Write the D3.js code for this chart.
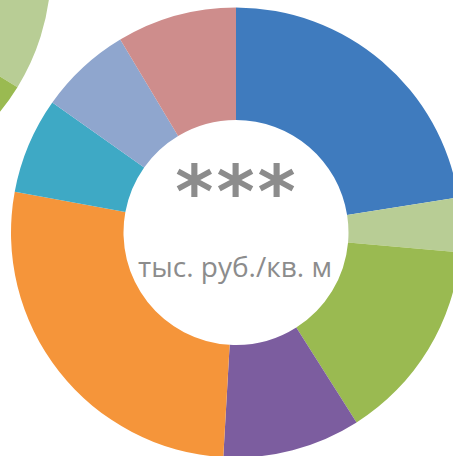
<!DOCTYPE html>
<html>
<head>
<meta charset="utf-8">
<script src="https://cdn.jsdelivr.net/npm/d3@7"></script>
<style>
	body{margin:0;background:#fff;overflow:hidden}
	svg{display:block}
</style>
</head>
<body>
<div id="chart"></div>
<script>

// main donut, clockwise from 12 o'clock
var categories=["c1","c2","c3","c4","c5","c6","c7","c8"]
var shares=[22.5,3.9,14.6,9.9,27.0,6.9,6.6,8.6]
var colors=["#3f7bbe","#b8cd95","#9aba51","#7c5d9f","#f5953a","#3ea9c5","#8fa6ce","#ce8d8c"]

// neighbouring donut, only a piece of it is seen in the corner
var neighbourShares=[18.0,15.8,14.0,10.0,26.0,6.0,5.0,5.2]

var centerTitle="***"
var centerUnit="тыс. руб./кв. м"

var W=453, H=456

var svg=d3.select("#chart").append("svg")
	.attr("width",W)
	.attr("height",H)

var pie=d3.pie().sort(null).value(function(d){return d})

var outerR=225, innerR=112.5
var arc=d3.arc().innerRadius(innerR).outerRadius(outerR)

function drawDonut(values,cx,cy){
	var g=svg.append("g").attr("transform","translate("+cx+","+cy+")")
	g.selectAll("path")
		.data(pie(values))
		.enter()
		.append("path")
		.attr("d",arc)
		.attr("fill",function(d,i){return colors[i]})
	return g
}

drawDonut(neighbourShares,-174,-31)
var main=drawDonut(shares,236,232.5)

main.append("text")
	.text(centerTitle)
	.attr("x",1)
	.attr("y",-16)
	.attr("text-anchor","middle")
	.attr("fill","#8c8c8c")
	.attr("font-family","DejaVu Sans")
	.attr("font-weight","bold")
	.attr("font-size",73)
	.attr("letter-spacing",3)

main.append("text")
	.text(centerUnit)
	.attr("x",-1)
	.attr("y",44)
	.attr("text-anchor","middle")
	.attr("fill","#8c8c8c")
	.attr("font-family","Open Sans")
	.attr("font-size",28)

</script>
</body>
</html>
